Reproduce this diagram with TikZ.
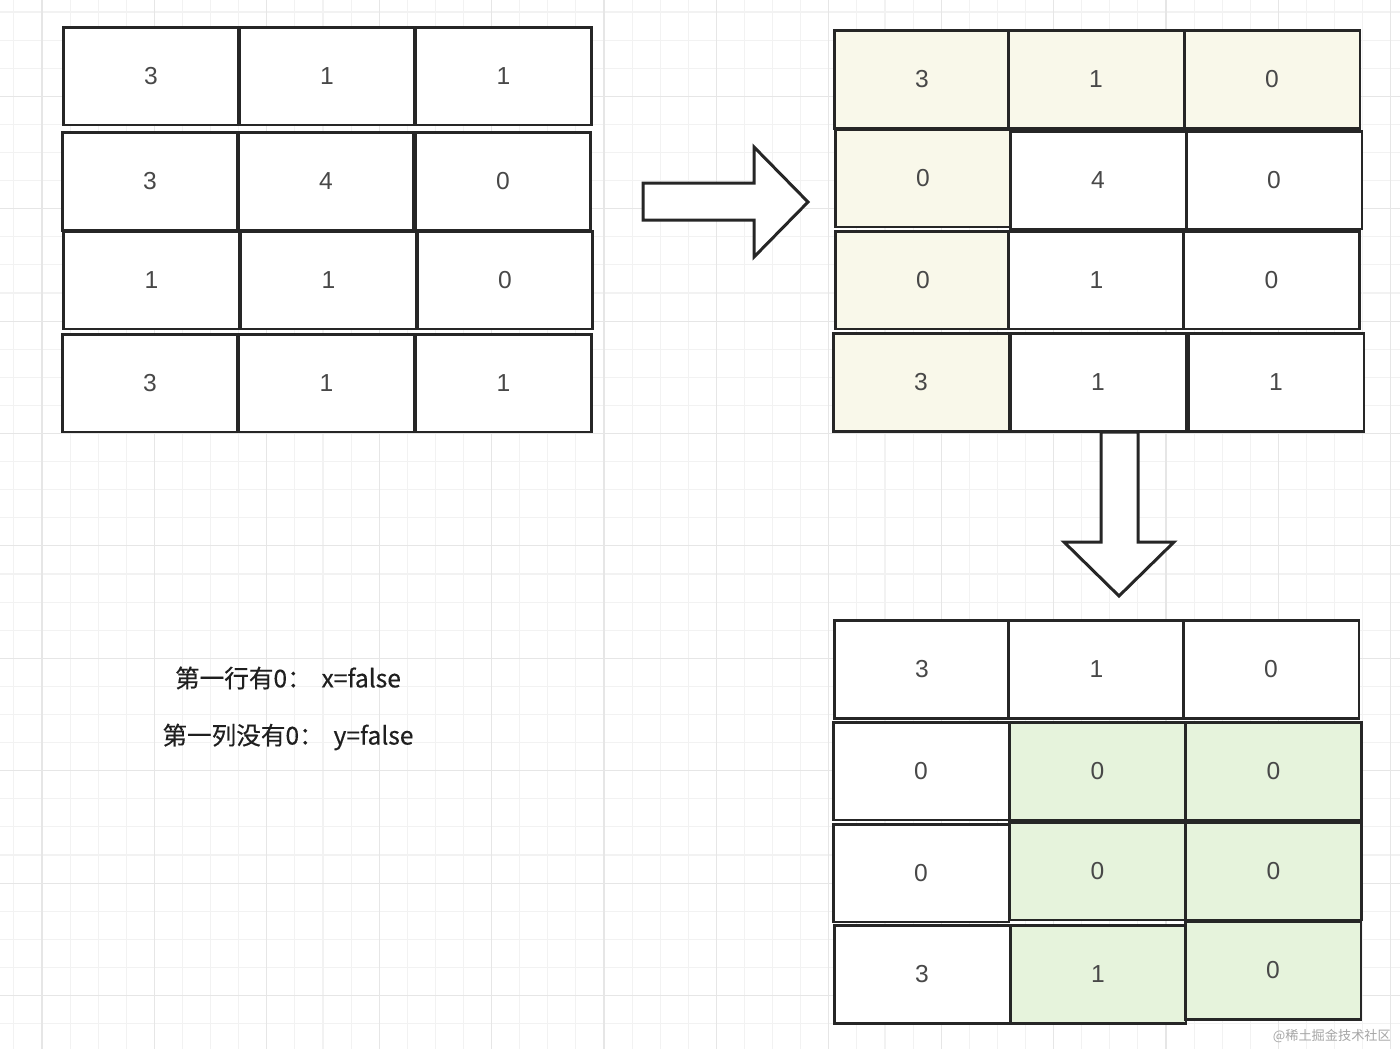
\documentclass[tikz,border=0pt]{standalone}
\usepackage{fontspec}
\setmainfont{Liberation Sans}
\newfontfamily\cjk{Noto Sans CJK SC}
\newfontfamily\cjknote[FakeBold=0.4]{Noto Sans CJK SC}
\usetikzlibrary{positioning}

\definecolor{gridminor}{HTML}{F2F2F2}
\definecolor{gridmajor}{HTML}{E6E6E6}
\definecolor{cellline}{HTML}{262626}
\definecolor{rowfill}{HTML}{F9F8EA}
\definecolor{zerofill}{HTML}{E6F3DC}
\definecolor{numcol}{HTML}{484848}

\tikzset{
  cell/.style={draw=cellline, line width=1.7pt, fill=white, minimum width=3.52cm,
    minimum height=1.96cm, inner sep=0pt, text=numcol, font=\fontsize{14}{16}\selectfont},
  marked/.style={cell, fill=rowfill},
  zeroed/.style={cell, fill=zerofill},
  blockarrow/.style={draw=cellline, line width=1.7pt, fill=white, line join=miter},
  note/.style={text=black!88, font=\cjknote\fontsize{14}{16}\selectfont},
}

\begin{document}
\begin{tikzpicture}[x=0.02cm, y=-0.02cm]
  \useasboundingbox (0,0) rectangle (1400,1049);
  \fill[white] (0,0) rectangle (1400,1049);
  % background grid
  \foreach \i in {0,...,49}
    \draw[gridminor, line width=0.6pt] (13.9+28.1*\i,0) -- (13.9+28.1*\i,1049);
  \foreach \j in {0,...,36}
    \draw[gridminor, line width=0.6pt] (0,12+28.1*\j) -- (1400,12+28.1*\j);
  \foreach \i in {0,...,12}
    \draw[gridmajor, line width=0.6pt] (42+112.4*\i,0) -- (42+112.4*\i,1049);
  \foreach \j in {0,...,8}
    \draw[gridmajor, line width=0.6pt] (0,96.3+112.4*\j) -- (1400,96.3+112.4*\j);

  % arrows between the matrices
  \draw[blockarrow] (643,183) -- (754,183) -- (754,147) -- (808,202)
    -- (754,257) -- (754,220) -- (643,220) -- cycle;
  \draw[blockarrow] (1101,432) -- (1138,432) -- (1138,542) -- (1174,542)
    -- (1119,596) -- (1064,542) -- (1101,542) -- cycle;

  % input matrix
  \node[cell] (a11) at (151,76) {3};
  \node[cell] (a12) at (327,76) {1};
  \node[cell] (a13) at (503.5,76) {1};
  \node[cell] (a21) at (150,181.5) {3};
  \node[cell] (a22) at (326,181.5) {4};
  \node[cell] (a23) at (503,181.5) {0};
  \node[cell] (a31) at (151.5,280) {1};
  \node[cell] (a32) at (328.5,280) {1};
  \node[cell] (a33) at (505,280) {0};
  \node[cell] (a41) at (150,383) {3};
  \node[cell] (a42) at (326.5,383) {1};
  \node[cell] (a43) at (503.5,383) {1};

  % first row and column marked
  \node[marked] (b11) at (922,79.5) {3};
  \node[marked] (b12) at (1096,79.5) {1};
  \node[marked] (b13) at (1272,79.5) {0};
  \node[marked] (b21) at (923,178) {0};
  \node[cell]   (b22) at (1098,180) {4};
  \node[cell]   (b23) at (1274,180) {0};
  \node[marked] (b31) at (923,280) {0};
  \node[cell]   (b32) at (1096.5,280) {1};
  \node[cell]   (b33) at (1271.5,280) {0};
  \node[marked] (b41) at (921,382.5) {3};
  \node[cell]   (b42) at (1098,382.5) {1};
  \node[cell]   (b43) at (1276,382.5) {1};

  % result
  \node[cell]   (c11) at (922,669.5) {3};
  \node[cell]   (c12) at (1096.5,669.5) {1};
  \node[cell]   (c13) at (1271,669.5) {0};
  \node[cell]   (c21) at (921,771) {0};
  \node[zeroed] (c22) at (1097.5,771) {0};
  \node[zeroed] (c23) at (1273.5,771) {0};
  \node[cell]   (c31) at (921,873) {0};
  \node[zeroed] (c32) at (1097.5,871) {0};
  \node[zeroed] (c33) at (1273.5,871) {0};
  \node[cell]   (c41) at (922,974.5) {3};
  \node[zeroed] (c42) at (1098,974.5) {1};
  \node[zeroed] (c43) at (1273,970) {0};

  \node[note] (rowflag) at (288,678) {第一行有0：\hspace{0.4em}x=false};
  \node[note] (colflag) at (288,737) {第一列没有0：\hspace{0.4em}y=false};
  \node[anchor=east, text=black!35, font=\cjk\fontsize{7.5}{9}\selectfont] (mark) at (1397,1036) {@稀土掘金技术社区};
\end{tikzpicture}
\end{document}
